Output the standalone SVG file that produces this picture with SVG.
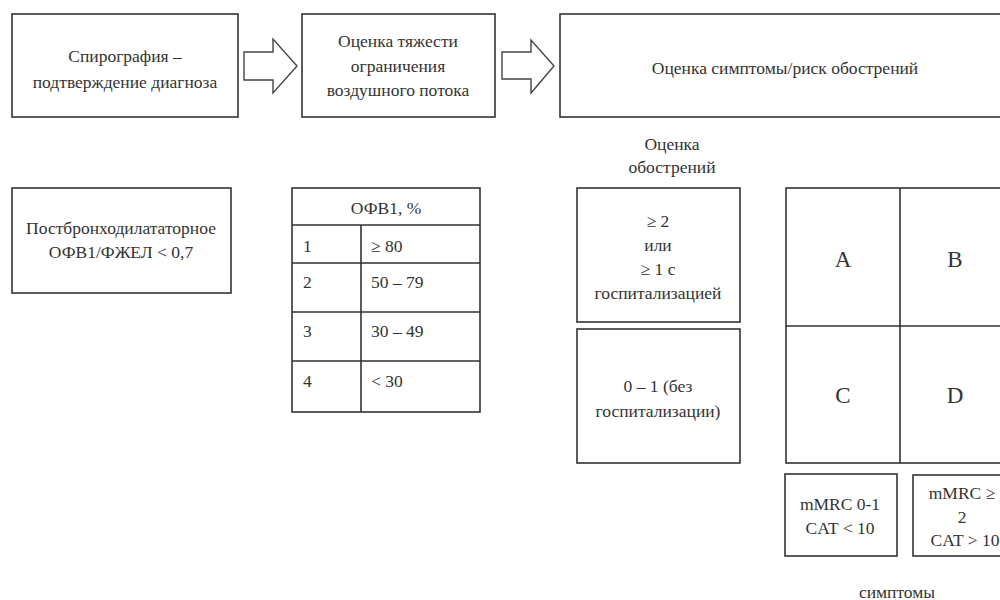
<svg xmlns="http://www.w3.org/2000/svg" width="1000" height="600" viewBox="0 0 1000 600">
<style>
.b{fill:#fff;stroke:#333;stroke-width:1.6}
.l{stroke:#333;stroke-width:1.6;fill:none}
.a{fill:#fff;stroke:#444;stroke-width:1.4;stroke-linejoin:miter}
text{font-family:"Liberation Serif","Times New Roman",serif;font-size:17.5px;fill:#333}
.c{text-anchor:middle}
.big{font-size:23px}
</style>
<rect width="1000" height="600" fill="#fff"/>
<g id="connectors">
<path class="a" d="M244,52 H273 V39 L297,66 L273,93 V80 H244 Z"/>
<path class="a" d="M502,52 H531 V40 L554,66 L531,93 V79 H502 Z"/>
</g>
<g id="spiro">
<rect class="b" x="12" y="14" width="226" height="103"/>
<text class="c" x="125" y="62">Спирография –</text>
<text class="c" x="125" y="88">подтверждение диагноза</text>
</g>
<g id="severity">
<rect class="b" x="302" y="14" width="193" height="103"/>
<text class="c" x="398" y="47">Оценка тяжести</text>
<text class="c" x="398" y="72">ограничения</text>
<text class="c" x="398" y="96">воздушного потока</text>
</g>
<g id="symptoms-risk">
<rect class="b" x="560" y="14" width="450" height="103"/>
<text class="c" x="785" y="74">Оценка симптомы/риск обострений</text>
</g>
<g id="postbd">
<rect class="b" x="12" y="188" width="219" height="105"/>
<text class="c" x="121" y="234">Постбронходилататорное</text>
<text class="c" x="121" y="258">ОФВ1/ФЖЕЛ &lt; 0,7</text>
</g>
<g id="fev1-table">
<rect class="b" x="292" y="188" width="188" height="224"/>
<path class="l" d="M292,225 H480 M292,263 H480 M292,312 H480 M292,361 H480 M361,225 V412"/>
<text class="c" x="386" y="214">ОФВ1, %</text>
<text x="303" y="252">1</text><text x="371" y="252">≥ 80</text>
<text x="303" y="288">2</text><text x="371" y="288">50 – 79</text>
<text x="303" y="337">3</text><text x="371" y="337">30 – 49</text>
<text x="303" y="387">4</text><text x="371" y="387">&lt; 30</text>
</g>
<g id="exac-label">
<text class="c" x="672" y="150">Оценка</text>
<text class="c" x="672" y="173">обострений</text>
</g>
<g id="exac-high">
<rect class="b" x="577" y="188" width="163" height="134"/>
<text class="c" x="658" y="227">≥ 2</text>
<text class="c" x="658" y="251">или</text>
<text class="c" x="658" y="275">≥ 1 с</text>
<text class="c" x="658" y="299">госпитализацией</text>
</g>
<g id="exac-low">
<rect class="b" x="577" y="329" width="163" height="134"/>
<text class="c" x="658" y="392">0 – 1 (без</text>
<text class="c" x="658" y="417">госпитализации)</text>
</g>
<g id="abcd-grid">
<rect class="b" x="786" y="188" width="230" height="275"/>
<path class="l" d="M900,188 V463 M786,326 H1016"/>
<text class="c big" x="843" y="267">A</text>
<text class="c big" x="955" y="267">B</text>
<text class="c big" x="843" y="403">C</text>
<text class="c big" x="955" y="403">D</text>
</g>
<g id="mmrc-low">
<rect class="b" x="785" y="474" width="112" height="82"/>
<text class="c" x="840" y="510">mMRC 0-1</text>
<text class="c" x="840" y="534">CAT &lt; 10</text>
</g>
<g id="mmrc-high">
<rect class="b" x="913" y="475" width="100" height="81"/>
<text class="c" x="962" y="499">mMRC ≥</text>
<text class="c" x="962" y="523">2</text>
<text class="c" x="965" y="546">CAT &gt; 10</text>
</g>
<g id="symptoms-label">
<text class="c" x="897" y="598">симптомы</text>
</g>
</svg>
